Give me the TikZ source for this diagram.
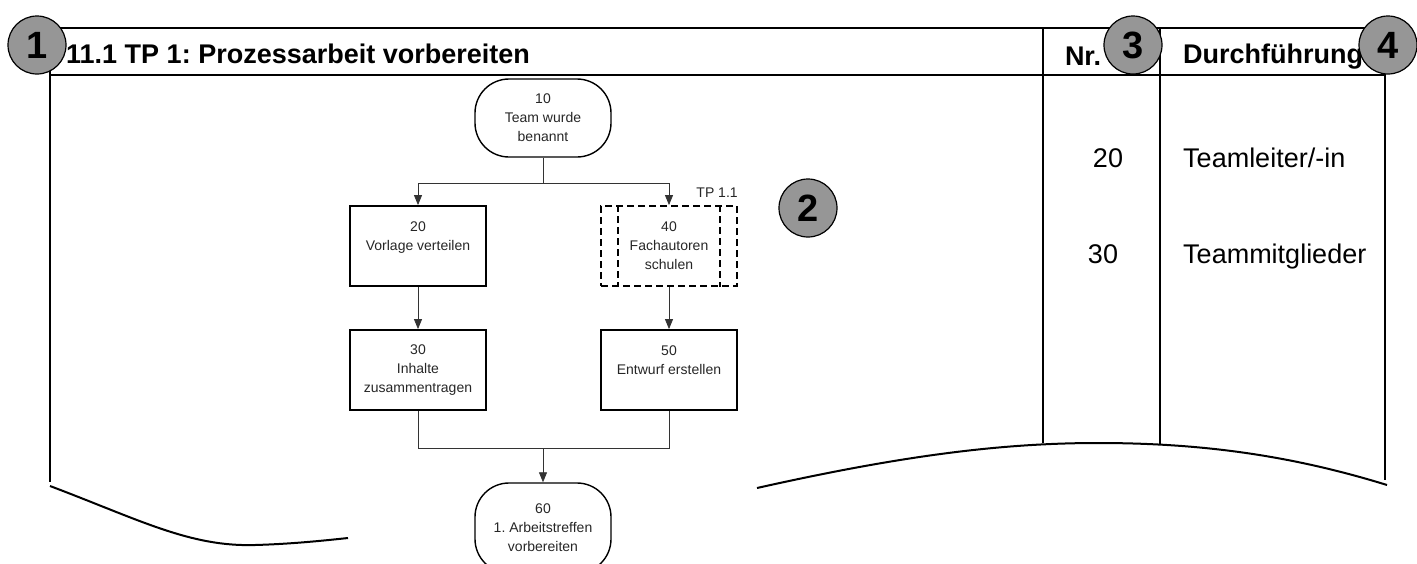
\documentclass[tikz,border=0pt]{standalone}
\usepackage{fontspec}
\setmainfont{Liberation Sans}
\usetikzlibrary{arrows.meta}
\definecolor{discgray}{RGB}{150,150,150}
\newcommand\flowfont{\fontsize{14}{19}\selectfont}
\frenchspacing
\begin{document}
\begin{tikzpicture}[x=1pt,y=-1pt,
    numdisc/.style={circle,draw,line width=1.2pt,fill=discgray,minimum size=58pt,inner sep=0pt,font=\fontsize{38}{38}\selectfont\bfseries},
    headtext/.style={inner sep=0pt,font=\fontsize{27}{30}\selectfont\bfseries},
    tabtext/.style={inner sep=0pt,font=\fontsize{27}{30}\selectfont},
    procbox/.style={draw,line width=1.8pt,minimum width=136pt,minimum height=80pt,inner sep=0pt,align=center,font=\flowfont,text=black!85},
    endbox/.style={procbox,line width=1.4pt,minimum width=136pt,minimum height=78pt,rounded corners=34pt},
    subbox/.style={procbox,dash pattern=on 7pt off 4pt},
    flow/.style={line width=0.8pt,black!80},
    arr/.style={flow,-{Triangle[length=10pt,width=8pt]}}]
    \useasboundingbox(0,0)rectangle(1417,563);
    \clip(0,0)rectangle(1417,563);
    \draw[line width=2pt](50,28)rectangle(1385,75);
    \draw[line width=1.5pt](1043,28)--(1043,443);
    \draw[line width=1.5pt](1160,28)--(1160,444);
    \draw[line width=2pt](50,75)--(50,482);
    \draw[line width=2pt](1385,75)--(1385,480);
    \draw[line width=2pt](50,486)..controls(140,520)and(190,547)..(255,545)..controls(290,544)and(320,541)..(348,538);
    \draw[line width=2pt](757,488)..controls(900,456)and(1000,443)..(1098,443)..controls(1200,443)and(1290,455)..(1387,485);
    \node[headtext,anchor=base west](title)at(66,63){11.1 TP 1: Prozessarbeit vorbereiten};
    \node[headtext,anchor=base](nr)at(1083,65){Nr.};
    \node[headtext,anchor=base west](dur)at(1183,63){Durchführung};
    \node[tabtext,anchor=base](r20)at(1108,167){20};
    \node[tabtext,anchor=base west](p20)at(1183,167){Teamleiter/-in};
    \node[tabtext,anchor=base](r30)at(1103,263){30};
    \node[tabtext,anchor=base west](p30)at(1183,263){Teammitglieder};
    \node[endbox](n10)at(543,118){10\\Team wurde\\benannt};
    \node[procbox](b20)at(418,246){20\\Vorlage verteilen\\~};
    \node[subbox](b40)at(669,246){40\\Fachautoren\\schulen};
    \draw[line width=1.8pt,dash pattern=on 7pt off 4pt]([xshift=18pt]b40.north west)--([xshift=18pt]b40.south west);
    \draw[line width=1.8pt,dash pattern=on 7pt off 4pt]([xshift=-18pt]b40.north east)--([xshift=-18pt]b40.south east);
    \node[anchor=base east,inner sep=0pt,font=\flowfont,text=black!85](tp)at([yshift=8pt]b40.north east){TP 1.1};
    \node[procbox](b30)at(418,370){30\\Inhalte\\zusammentragen};
    \node[procbox](b50)at(669,370){50\\Entwurf erstellen\\~};
    \node[endbox,minimum height=90pt](n60)at(543,528){60\\1. Arbeitstreffen\\vorbereiten};
    \coordinate(split)at(543,183);
    \coordinate(join)at(543,448);
    \draw[flow](n10)--(split);
    \draw[arr](split)-|(b20);
    \draw[arr](split)-|(b40);
    \draw[arr](b20)--(b30);
    \draw[arr](b40)--(b50);
    \draw[flow](b30)|-(join);
    \draw[flow](b50)|-(join);
    \draw[arr](join)--(n60);
    \node[numdisc](c1)at(37,45){1};
    \node[numdisc](c2)at(808,208){2};
    \node[numdisc](c3)at(1133,45){3};
    \node[numdisc](c4)at(1388,45){4};
\end{tikzpicture}
\end{document}
